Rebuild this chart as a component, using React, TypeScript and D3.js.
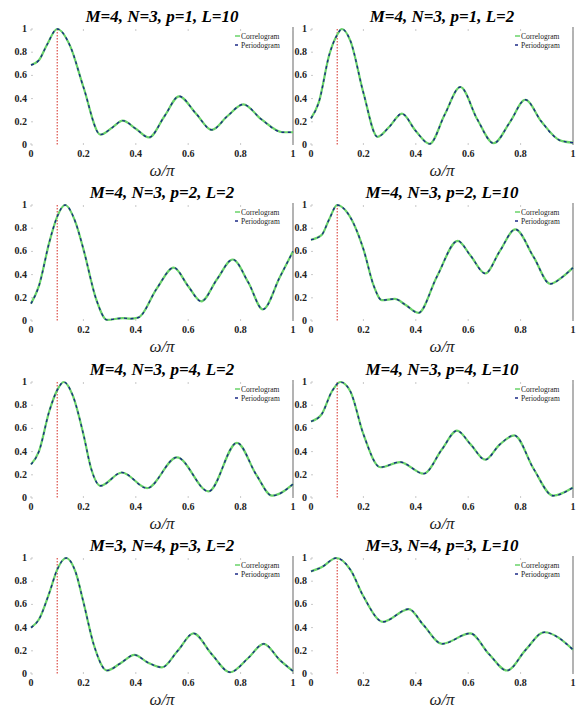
import React from "react";
import * as d3 from "d3";

// Normalised spectral estimates, one series per panel (x in units of ω/π).
const titles = [
  "M=4, N=3, p=1, L=10",
  "M=4, N=3, p=1, L=2",
  "M=4, N=3, p=2, L=2",
  "M=4, N=3, p=2, L=10",
  "M=4, N=3, p=4, L=2",
  "M=4, N=3, p=4, L=10",
  "M=3, N=4, p=3, L=2",
  "M=3, N=4, p=3, L=10",
];

const freqA = [0, 0.03, 0.06, 0.1, 0.15, 0.2, 0.265, 0.31, 0.35, 0.4, 0.45, 0.51, 0.565, 0.63, 0.69, 0.75, 0.81, 0.88, 0.96, 1.0];
const specA = [0.69, 0.73, 0.86, 1.0, 0.85, 0.5, 0.09, 0.15, 0.21, 0.14, 0.065, 0.25, 0.42, 0.27, 0.13, 0.25, 0.35, 0.22, 0.11, 0.11];

const freqB = [0, 0.03, 0.07, 0.1, 0.118, 0.15, 0.2, 0.254, 0.3, 0.347, 0.4, 0.453, 0.51, 0.57, 0.635, 0.697, 0.76, 0.818, 0.88, 0.95, 1.0];
const specB = [0.23, 0.37, 0.78, 0.95, 1.0, 0.9, 0.45, 0.07, 0.16, 0.27, 0.12, 0.01, 0.26, 0.5, 0.22, 0.015, 0.2, 0.39, 0.2, 0.04, 0.02];

const freqC = [0, 0.03, 0.07, 0.1, 0.13, 0.17, 0.2, 0.25, 0.29, 0.35, 0.38, 0.41, 0.48, 0.545, 0.6, 0.65, 0.71, 0.77, 0.83, 0.885, 0.95, 1.0];
const specC = [0.15, 0.3, 0.68, 0.9, 1.0, 0.85, 0.62, 0.18, 0.01, 0.025, 0.02, 0.03, 0.28, 0.46, 0.3, 0.17, 0.36, 0.53, 0.33, 0.1, 0.38, 0.6];

const freqD = [0, 0.04, 0.07, 0.1, 0.14, 0.2, 0.24, 0.27, 0.32, 0.36, 0.41, 0.48, 0.56, 0.61, 0.665, 0.72, 0.78, 0.85, 0.913, 0.96, 1.0];
const specD = [0.7, 0.74, 0.88, 1.0, 0.93, 0.62, 0.3, 0.18, 0.19, 0.14, 0.07, 0.38, 0.69, 0.56, 0.41, 0.6, 0.79, 0.55, 0.32, 0.38, 0.46];

const freqE = [0, 0.03, 0.07, 0.1, 0.125, 0.16, 0.2, 0.23, 0.265, 0.347, 0.443, 0.557, 0.678, 0.786, 0.86, 0.92, 1.0];
const specE = [0.29, 0.4, 0.75, 0.93, 1.0, 0.88, 0.55, 0.25, 0.105, 0.22, 0.085, 0.35, 0.057, 0.476, 0.2, 0.02, 0.12];

const freqF = [0, 0.04, 0.08, 0.112, 0.15, 0.2, 0.265, 0.34, 0.43, 0.5, 0.557, 0.61, 0.665, 0.72, 0.776, 0.85, 0.924, 1.0];
const specF = [0.66, 0.72, 0.92, 1.0, 0.92, 0.55, 0.265, 0.31, 0.21, 0.42, 0.58, 0.46, 0.33, 0.46, 0.54, 0.25, 0.02, 0.09];

const freqG = [0, 0.03, 0.07, 0.1, 0.134, 0.17, 0.2, 0.24, 0.29, 0.34, 0.395, 0.445, 0.5, 0.56, 0.62, 0.69, 0.76, 0.83, 0.888, 0.95, 1.0];
const specG = [0.4, 0.47, 0.7, 0.9, 1.0, 0.88, 0.62, 0.25, 0.03, 0.09, 0.165, 0.1, 0.057, 0.2, 0.35, 0.17, 0.015, 0.14, 0.26, 0.12, 0.025];

const freqH = [0, 0.04, 0.097, 0.15, 0.2, 0.275, 0.373, 0.43, 0.5, 0.608, 0.68, 0.748, 0.82, 0.89, 1.0];
const specH = [0.885, 0.92, 1.0, 0.9, 0.67, 0.45, 0.56, 0.42, 0.26, 0.35, 0.17, 0.03, 0.21, 0.36, 0.21];

const freqs = [freqA, freqB, freqC, freqD, freqE, freqF, freqG, freqH];
const spectra = [specA, specB, specC, specD, specE, specF, specG, specH];

const tickValues = [0, 0.2, 0.4, 0.6, 0.8, 1];
const tickLabels = ["0", "0.2", "0.4", "0.6", "0.8", "1"];
const markerFreq = 0.1;
const legendLabels = ["Correlogram", "Periodogram"];

const WIDTH = 582;
const HEIGHT = 709;
const colLeft = [31, 311];
const plotW = 262;
const rowTop = [29, 205, 382, 558];
const plotH = 116;

const GREEN = "#6ad36a";
const BLUE = "#1b2a86";
const RED = "#d42a22";
const serif = "'Liberation Serif', 'Times New Roman', serif";

function Panel({ idx }: { idx: number }) {
  const col = idx % 2;
  const row = Math.floor(idx / 2);
  const x0 = colLeft[col];
  const y0 = rowTop[row];
  const x = d3.scaleLinear().domain([0, 1]).range([x0, x0 + plotW]);
  const y = d3.scaleLinear().domain([0, 1]).range([y0 + plotH, y0]);
  const pts = freqs[idx].map((f, i) => [f, spectra[idx][i]] as [number, number]);
  const line = d3
    .line<[number, number]>()
    .x((d) => x(d[0]))
    .y((d) => y(d[1]))
    .curve(d3.curveMonotoneX);
  const path = line(pts) || "";
  const xr = x(1);
  return (
    <g>
      <text
        x={(x(0) + x(1)) / 2}
        y={y0 - 7}
        textAnchor="middle"
        fontFamily={serif}
        fontWeight="bold"
        fontStyle="italic"
        fontSize={17}
      >
        {titles[idx]}
      </text>
      {/* right frame edge */}
      <line x1={xr} x2={xr} y1={y0 - 2} y2={y(0)} stroke="#9a9a9a" strokeWidth={1.5} />
      {tickValues.map((t, i) => (
        <g key={"t" + i}>
          <line x1={x(t)} x2={x(t)} y1={y(0)} y2={y(0) - 2} stroke="#bbb" strokeWidth={0.8} />
          <line x1={x(t)} x2={x(t)} y1={y(1)} y2={y(1) + 2} stroke="#bbb" strokeWidth={0.8} />
          <line x1={x(0)} x2={x(0) + 2} y1={y(t)} y2={y(t)} stroke="#bbb" strokeWidth={0.8} />
          <text
            x={x(t)}
            y={y(0) + 12}
            textAnchor="middle"
            fontFamily={serif}
            fontWeight="bold"
            fontSize={10}
            fill="#222"
          >
            {tickLabels[i]}
          </text>
          <text
            x={x(0) - 4}
            y={y(t) + 3}
            textAnchor="end"
            fontFamily={serif}
            fontWeight="bold"
            fontSize={10}
            fill="#222"
          >
            {tickLabels[i]}
          </text>
        </g>
      ))}
      <line
        x1={x(markerFreq)}
        x2={x(markerFreq)}
        y1={y(1)}
        y2={y(0)}
        stroke={RED}
        strokeWidth={1}
        strokeDasharray="1.5,1.5"
      />
      <path d={path} fill="none" stroke={GREEN} strokeWidth={2.2} />
      <path d={path} fill="none" stroke={BLUE} strokeWidth={1.4} strokeDasharray="3,3.5" />
      {/* legend */}
      <g>
        <line x1={xr - 58} x2={xr - 53} y1={y0 + 7} y2={y0 + 7} stroke={GREEN} strokeWidth={1.5} />
        <text x={xr - 52} y={y0 + 9.5} fontFamily={serif} fontSize={7.5} fill="#222">
          {legendLabels[0]}
        </text>
        <line x1={xr - 58} x2={xr - 55} y1={y0 + 16} y2={y0 + 16} stroke={BLUE} strokeWidth={1.5} />
        <text x={xr - 52} y={y0 + 18.5} fontFamily={serif} fontSize={7.5} fill="#222">
          {legendLabels[1]}
        </text>
      </g>
      <text
        x={(x(0) + x(1)) / 2}
        y={y(0) + 31}
        textAnchor="middle"
        fontFamily={serif}
        fontStyle="italic"
        fontSize={17}
        fill="#222"
      >
        ω/π
      </text>
    </g>
  );
}

export default function App() {
  return (
    <svg
      width={WIDTH}
      height={HEIGHT}
      style={{ position: "absolute", left: 0, top: 0, background: "#fff" }}
    >
      <rect width={WIDTH} height={HEIGHT} fill="#fff" />
      {titles.map((_, i) => (
        <Panel key={i} idx={i} />
      ))}
    </svg>
  );
}
